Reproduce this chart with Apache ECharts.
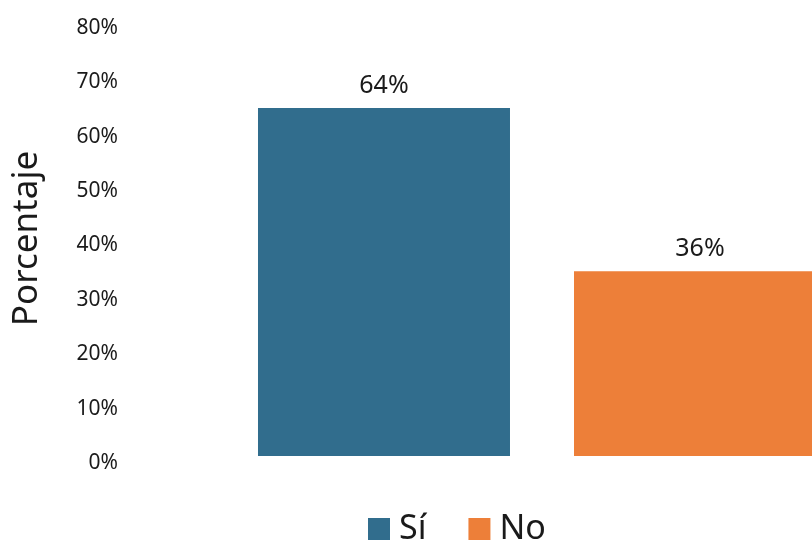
<!DOCTYPE html>
<html>
<head>
<meta charset="utf-8">
<script src="https://cdn.jsdelivr.net/npm/echarts@6/dist/echarts.min.js"></script>
<style>
html,body{margin:0;padding:0;background:#fff;}
#chart{width:812px;height:540px;}
</style>
</head>
<body>
<div id="chart"></div>
<script>
// Data
const seriesNames = ['Sí', 'No'];
const barValues = [64, 34];          // bar heights as drawn
const barLabels = ['64%', '36%'];    // label texts as printed
const colors = ['#316D8D', '#ED7F39'];
const yTicks = { min: 0, max: 80, interval: 10 };
const category = [''];

const FONT = 'Noto Sans';
const chart = echarts.init(document.getElementById('chart'), null, { renderer: 'canvas' });

const series = seriesNames.map((name, i) => ({
  name: name,
  type: 'bar',
  data: [barValues[i]],
  barWidth: 252,
  barGap: '25.4%',
  itemStyle: { color: colors[i] },
  label: {
    show: true,
    position: 'top',
    distance: 10,
    fontFamily: FONT,
    fontSize: 25,
    color: '#1a1a1a',
    formatter: () => barLabels[i]
  }
}));

chart.setOption({
  animation: false,
  textStyle: { fontFamily: FONT },
  grid: { left: 126, top: 21, bottom: 84, width: 832, outerBoundsMode: 'none', containLabel: false },
  legend: {
    data: seriesNames,
    top: 507,
    left: 363,
    itemWidth: 22,
    itemHeight: 22,
    itemGap: 42,
    icon: 'rect',
    textStyle: { fontFamily: FONT, fontSize: 34, color: '#1a1a1a', padding: [0, 0, 0, 4] }
  },
  xAxis: {
    type: 'category',
    data: category,
    axisLine: { show: false },
    axisTick: { show: false },
    axisLabel: { show: false }
  },
  yAxis: {
    type: 'value',
    min: yTicks.min,
    max: yTicks.max,
    interval: yTicks.interval,
    name: 'Porcentaje',
    nameLocation: 'middle',
    nameRotate: 90,
    nameGap: 81,
    nameTextStyle: { fontFamily: FONT, fontSize: 35, color: '#1a1a1a' },
    axisLine: { show: false },
    axisTick: { show: false },
    splitLine: { show: false },
    axisLabel: {
      fontFamily: FONT,
      fontSize: 21,
      color: '#1a1a1a',
      margin: 8,
      verticalAlign: 'top',
      lineHeight: 14,
      formatter: v => v + '%'
    }
  },
  series: series
});
</script>
</body>
</html>
